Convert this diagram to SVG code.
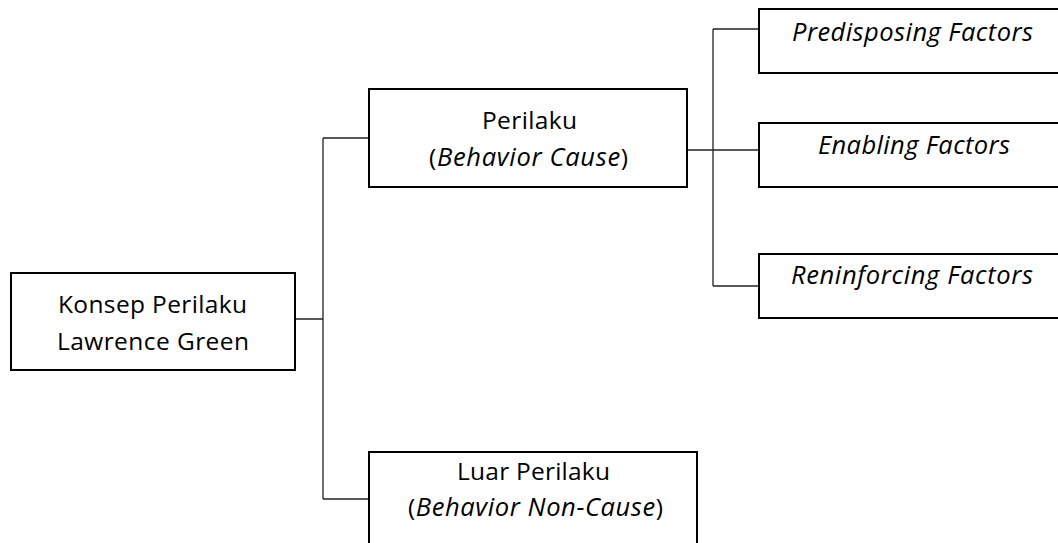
<svg xmlns="http://www.w3.org/2000/svg" width="1058" height="543" viewBox="0 0 1058 543">
<style>
.box{fill:#fff;stroke:#000;stroke-width:2}
.ln{fill:none;stroke:#222;stroke-width:1.3}
text{font-family:"Open Sans","Liberation Sans",sans-serif;font-size:24.5px;fill:#000;text-anchor:middle}
.it{font-style:italic;font-size:25.5px}
</style>
<rect width="1058" height="543" fill="#fff"/>
<g id="connectors">
<path class="ln" d="M295 319H323M323 138V499M323 138H369M323 499H369"/>
<path class="ln" d="M687 150H759M713 29V286M713 29H759M713 286H759"/>
</g>
<g id="n-konsep">
<rect class="box" x="11" y="273" width="284" height="97"/>
<text x="152.5" y="313" textLength="189" lengthAdjust="spacing">Konsep Perilaku</text>
<text x="153" y="350" textLength="192" lengthAdjust="spacing">Lawrence Green</text>
</g>
<g id="n-perilaku">
<rect class="box" x="369" y="89" width="318" height="98"/>
<text x="529.5" y="129" textLength="95" lengthAdjust="spacing">Perilaku</text>
<text x="528.5" y="166" textLength="199" lengthAdjust="spacing">(<tspan class="it">Behavior Cause</tspan>)</text>
</g>
<g id="n-luar">
<rect class="box" x="369" y="452" width="328" height="100"/>
<text x="533.5" y="480" textLength="153" lengthAdjust="spacing">Luar Perilaku</text>
<text x="535.5" y="516" textLength="255" lengthAdjust="spacing">(<tspan class="it">Behavior Non-Cause</tspan>)</text>
</g>
<g id="n-predisposing">
<rect class="box" x="759" y="9" width="307" height="64"/>
<text class="it" x="912.5" y="41" textLength="241" lengthAdjust="spacing">Predisposing Factors</text>
</g>
<g id="n-enabling">
<rect class="box" x="759" y="123" width="307" height="64"/>
<text class="it" x="914" y="154" textLength="192" lengthAdjust="spacing">Enabling Factors</text>
</g>
<g id="n-reninforcing">
<rect class="box" x="759" y="254" width="307" height="64"/>
<text class="it" x="912" y="284" textLength="242" lengthAdjust="spacing">Reninforcing Factors</text>
</g>
</svg>
